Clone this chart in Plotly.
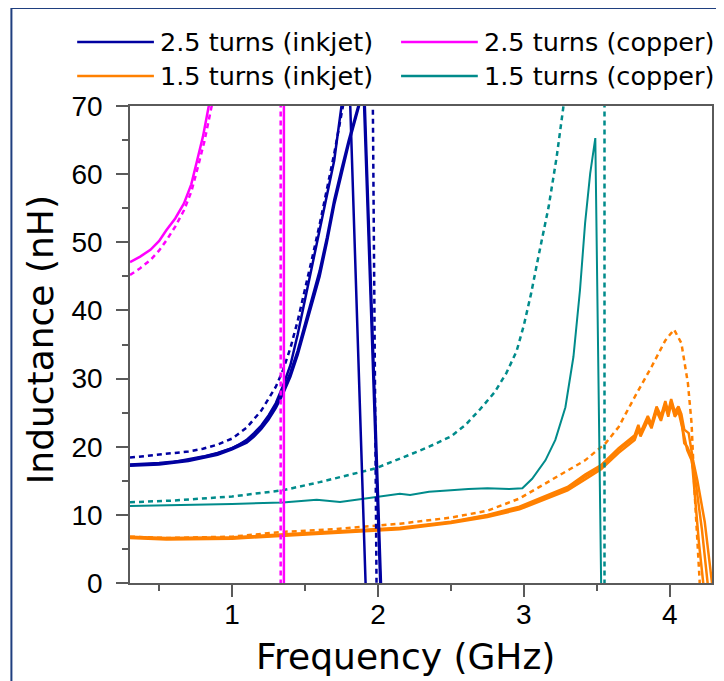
import plotly.graph_objects as go

# ---------------- data ----------------
# 2.5 turns (inkjet) - measured sample A
ink25_a_x = [0.3, 0.4, 0.5, 0.6, 0.7, 0.8, 0.9, 1.0, 1.05, 1.1, 1.15, 1.2, 1.25, 1.3, 1.35, 1.4, 1.45, 1.5, 1.55, 1.6, 1.65, 1.7, 1.75, 1.78, 1.81, 1.85, 1.885, 1.915, 1.93]
ink25_a_y = [17.3, 17.35, 17.5, 17.75, 18.1, 18.55, 19.1, 19.8, 20.3, 21.0, 22.0, 23.1, 24.6, 26.4, 29.0, 32.0, 36.5, 41.5, 46.5, 51.5, 56.5, 62.0, 70.0, 73.0, 70.0, 43.0, 18.5, 0.0, -6.0]
# 2.5 turns (inkjet) - measured sample B (two close repeats)
ink25_b1_x = [0.3, 0.5, 0.7, 0.9, 1.0, 1.1, 1.15, 1.2, 1.25, 1.3, 1.35, 1.4, 1.45, 1.5, 1.55, 1.6, 1.65, 1.7, 1.75, 1.8, 1.87, 1.89, 1.91, 1.95, 1.99, 2.02, 2.03]
ink25_b1_y = [17.2, 17.4, 17.9, 18.8, 19.6, 20.6, 21.5, 22.6, 24.0, 25.7, 27.8, 30.3, 33.5, 37.3, 41.0, 45.0, 50.0, 55.5, 60.0, 64.5, 70.0, 73.0, 70.0, 45.0, 17.0, 0.0, -6.0]
ink25_b2_x = [0.3, 0.5, 0.7, 0.9, 1.0, 1.1, 1.15, 1.2, 1.25, 1.3, 1.35, 1.4, 1.45, 1.5, 1.55, 1.6, 1.65, 1.7, 1.75, 1.8, 1.865, 1.885, 1.905, 1.945, 1.985, 2.015, 2.025]
ink25_b2_y = [17.4, 17.6, 18.0, 19.0, 19.8, 20.9, 21.8, 22.9, 24.4, 26.1, 28.3, 30.9, 34.1, 37.9, 41.7, 45.8, 50.7, 56.2, 60.7, 65.0, 70.0, 73.0, 70.0, 45.0, 17.0, 0.0, -6.0]
# 2.5 turns (inkjet) - simulated
ink25_sim_x = [0.3, 0.5, 0.7, 0.8, 0.9, 1.0, 1.1, 1.2, 1.3, 1.35, 1.4, 1.45, 1.5, 1.55, 1.6, 1.65, 1.7, 1.76, 1.85, 1.93, 1.965, 1.99, 2.0]
ink25_sim_y = [18.4, 18.8, 19.3, 19.7, 20.3, 21.2, 22.8, 25.3, 28.8, 31.3, 34.5, 38.5, 43.0, 47.8, 52.6, 57.6, 63.0, 70.0, 95.0, 95.0, 70.0, 0.0, -6.0]

# 2.5 turns (copper)
cu25_x = [0.3, 0.37, 0.44, 0.5, 0.55, 0.61, 0.67, 0.72, 0.76, 0.8, 0.84, 0.9, 1.355, 1.355]
cu25_y = [47.1, 47.9, 48.9, 50.2, 51.8, 53.5, 55.7, 58.5, 62.0, 65.5, 70.0, 80.0, 400.0, -400.0]
cu25_sim_x = [0.3, 0.37, 0.44, 0.5, 0.55, 0.61, 0.67, 0.72, 0.76, 0.81, 0.86, 0.92, 1.333, 1.333]
cu25_sim_y = [45.2, 46.2, 47.4, 48.8, 50.3, 52.3, 54.7, 57.4, 60.6, 64.8, 70.0, 80.0, 400.0, -400.0]

# 1.5 turns (copper)
cu15_x = [0.3, 0.6, 1.0, 1.346, 1.58, 1.74, 1.96, 2.15, 2.22, 2.35, 2.5, 2.62, 2.75, 2.9, 2.99, 3.057, 3.148, 3.216, 3.285, 3.34, 3.385, 3.42, 3.455, 3.49, 3.53, 3.535]
cu15_y = [11.3, 11.4, 11.6, 11.8, 12.2, 11.9, 12.5, 13.1, 12.9, 13.4, 13.6, 13.8, 13.9, 13.8, 13.9, 15.3, 18.0, 21.0, 25.8, 33.2, 43.0, 52.8, 60.1, 65.3, 0.0, -6.0]
cu15_sim_x = [0.3, 0.6, 1.0, 1.346, 1.6, 1.98, 2.215, 2.35, 2.5, 2.6, 2.7, 2.8, 2.88, 2.95, 3.0, 3.05, 3.10, 3.17, 3.225, 3.27, 3.32, 3.553, 3.553]
cu15_sim_y = [11.85, 12.1, 12.7, 13.6, 14.8, 16.8, 18.8, 20.0, 21.5, 23.2, 25.5, 28.0, 30.8, 34.0, 37.8, 42.5, 47.9, 55.2, 62.5, 69.7, 80.0, 400.0, -400.0]

# 1.5 turns (inkjet) - three measured repeats
ink15_1_x = [0.3, 0.55, 1.0, 1.346, 1.8, 2.15, 2.5, 2.75, 2.97, 3.19, 3.3, 3.42, 3.53, 3.65, 3.76, 3.785, 3.8, 3.85, 3.875, 3.91, 3.94, 3.97, 3.99, 4.01, 4.035, 4.06, 4.08, 4.1, 4.12, 4.15, 4.17, 4.2, 4.23, 4.24]
ink15_1_y = [6.7, 6.5, 6.6, 7.0, 7.5, 8.0, 8.9, 9.9, 11.0, 12.9, 13.9, 15.6, 17.0, 19.5, 21.4, 22.9, 21.8, 24.2, 23.0, 25.6, 24.2, 26.4, 24.8, 26.7, 24.8, 25.6, 24.0, 20.5, 20.0, 18.5, 13.6, 6.0, 0.0, -5.0]
ink15_2_x = [0.3, 0.55, 1.0, 1.346, 1.8, 2.15, 2.5, 2.75, 2.97, 3.19, 3.3, 3.42, 3.53, 3.65, 3.76, 3.785, 3.8, 3.85, 3.875, 3.91, 3.94, 3.97, 3.99, 4.01, 4.035, 4.06, 4.08, 4.1, 4.12, 4.15, 4.18, 4.22, 4.26, 4.27]
ink15_2_y = [6.6, 6.4, 6.5, 6.9, 7.4, 7.9, 8.8, 9.7, 10.8, 12.6, 13.6, 15.2, 16.7, 19.1, 21.0, 22.5, 21.5, 23.8, 22.7, 25.2, 23.8, 26.0, 24.4, 26.3, 24.4, 25.2, 23.5, 21.5, 19.5, 18.0, 14.5, 8.0, 0.0, -5.0]
ink15_3_x = [0.3, 0.55, 1.0, 1.346, 1.8, 2.15, 2.5, 2.75, 2.97, 3.19, 3.3, 3.42, 3.53, 3.65, 3.76, 3.785, 3.8, 3.85, 3.875, 3.91, 3.94, 3.97, 3.99, 4.01, 4.035, 4.06, 4.08, 4.1, 4.13, 4.16, 4.19, 4.24, 4.29, 4.3]
ink15_3_y = [6.8, 6.6, 6.7, 7.1, 7.6, 8.1, 9.0, 10.0, 11.2, 13.1, 14.1, 15.9, 17.3, 19.8, 21.7, 23.2, 22.1, 24.5, 23.3, 25.9, 24.5, 26.7, 25.1, 27.0, 25.1, 25.9, 24.8, 22.5, 22.0, 18.0, 15.0, 9.0, 0.0, -5.0]
# 1.5 turns (inkjet) - simulated
ink15_sim_x = [0.3, 0.55, 1.0, 1.346, 1.7, 2.15, 2.5, 2.75, 2.97, 3.19, 3.42, 3.56, 3.65, 3.76, 3.875, 3.97, 4.03, 4.08, 4.125, 4.15, 4.17, 4.205, 4.21]
ink15_sim_y = [6.8, 6.6, 6.8, 7.5, 7.9, 8.7, 9.6, 10.6, 12.4, 15.1, 18.0, 20.5, 22.9, 27.3, 31.7, 35.6, 37.2, 35.2, 29.3, 23.4, 13.6, 0.4, -3.0]

legend_labels = ["2.5 turns (inkjet)", "2.5 turns (copper)", "1.5 turns (inkjet)", "1.5 turns (copper)"]

x_tickvals = [1, 2, 3, 4]
y_tickvals = [0, 10, 20, 30, 40, 50, 60, 70]

# ---------------- styling ----------------
BLUE = "#0000A0"
PINK = "#FF00FF"
ORANGE = "#FF8000"
TEAL = "#008B8B"
DASH = "5px,4px"

OFF = 8  # page body margin
W, H = 724 - OFF, 681 - OFF
L, R, T, B = 130 - OFF, 10, 106 - OFF, 98
PW, PH = W - L - R, H - T - B


def px(x):  # x in screen pixels -> paper
    return (x - OFF - L) / PW


def py(y):  # y in screen pixels -> paper
    return (H - B - (y - OFF)) / PH


fig = go.Figure()


def add(x, y, color, width, dash=None):
    fig.add_trace(go.Scatter(
        x=x, y=y, mode="lines", showlegend=False, hoverinfo="skip",
        line=dict(color=color, width=width, dash=dash if dash else "solid"),
    ))


add(ink15_sim_x, ink15_sim_y, ORANGE, 2.5, DASH)
add(ink15_1_x, ink15_1_y, ORANGE, 2.5)
add(ink15_2_x, ink15_2_y, ORANGE, 2.5)
add(ink15_3_x, ink15_3_y, ORANGE, 2.5)
add(cu15_sim_x, cu15_sim_y, TEAL, 2.5, DASH)
add(cu15_x, cu15_y, TEAL, 2)
add(ink25_sim_x, ink25_sim_y, BLUE, 2.5, DASH)
add(ink25_a_x, ink25_a_y, BLUE, 2.5)
add(ink25_b1_x, ink25_b1_y, BLUE, 2.5)
add(ink25_b2_x, ink25_b2_y, BLUE, 2.5)
add(cu25_sim_x, cu25_sim_y, PINK, 2.5, DASH)
add(cu25_x, cu25_y, PINK, 2.5)

TXT_FONT = "DejaVu Sans"
axis_common = dict(
    showgrid=False, zeroline=False, showline=True, linecolor="#5a5a5a", linewidth=1.5,
    mirror=True, ticks="outside", ticklen=12, tickwidth=1.5, tickcolor="#5a5a5a",
    tickfont=dict(family="Liberation Sans, Arial", size=28, color="black"),
)
fig.update_xaxes(range=[0.3, 4.29], tickvals=x_tickvals, ticklabelstandoff=-6,
                 minor=dict(dtick=0.5, tick0=0, ticks="outside", ticklen=6, tickwidth=1.5, tickcolor="#5a5a5a"),
                 **axis_common)
fig.update_yaxes(range=[0, 70], tickvals=y_tickvals, ticklabelstandoff=8,
                 minor=dict(dtick=5, tick0=0, ticks="outside", ticklen=6, tickwidth=1.5, tickcolor="#5a5a5a"),
                 **axis_common)

shapes = [dict(type="rect", xref="paper", yref="paper",
               x0=px(11), x1=px(760), y0=py(8), y1=py(720),
               line=dict(color="#1F3F7F", width=2), fillcolor="rgba(0,0,0,0)", layer="below")]
annotations = []
leg_pos = [(77, 42, BLUE), (402, 42, PINK), (77, 76, ORANGE), (402, 76, TEAL)]
for (lx, ly, col), lab in zip(leg_pos, legend_labels):
    shapes.append(dict(type="line", xref="paper", yref="paper",
                       x0=px(lx), x1=px(lx + 77), y0=py(ly), y1=py(ly),
                       line=dict(color=col, width=2.5)))
    annotations.append(dict(text=lab, xref="paper", yref="paper", x=px(lx + 81), y=py(ly),
                            xanchor="left", yanchor="middle", showarrow=False,
                            font=dict(family=TXT_FONT, size=25.5, color="black")))

annotations.append(dict(text="Frequency (GHz)", xref="paper", yref="paper", x=px(406), y=py(656),
                        xanchor="center", yanchor="middle", showarrow=False,
                        font=dict(family=TXT_FONT, size=36, color="black")))
annotations.append(dict(text="Inductance (nH)", xref="paper", yref="paper", x=px(40), y=py(340),
                        xanchor="center", yanchor="middle", showarrow=False, textangle=-90,
                        font=dict(family=TXT_FONT, size=36, color="black")))

fig.update_layout(
    width=W, height=H, autosize=False,
    margin=dict(l=L, r=R, t=T, b=B),
    paper_bgcolor="white", plot_bgcolor="white",
    shapes=shapes, annotations=annotations,
)

fig.write_html("out.html")
